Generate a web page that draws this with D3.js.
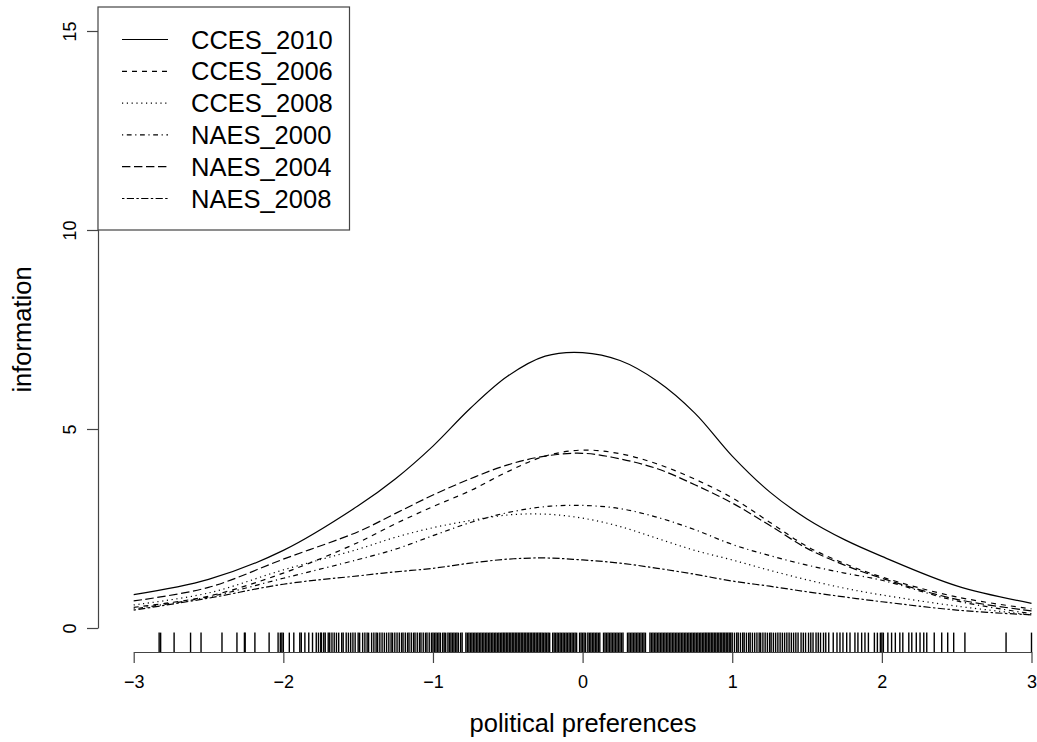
<!DOCTYPE html>
<html>
<head>
<meta charset="utf-8">
<script src="https://cdn.jsdelivr.net/npm/d3@7"></script>
<style>
  body { margin: 0; background: #fff; }
  svg { display: block; font-family: "Liberation Sans", Arial, Helvetica, sans-serif; }
</style>
</head>
<body>
<svg id="chart" width="1037" height="742"></svg>
<script>
// ability values the curves were read at (finer near the peak)
const xGrid = [-3, -2.5, -2, -1.5, -1.25, -1, -0.75, -0.5, -0.25, 0, 0.25, 0.5, 0.75, 1, 1.25, 1.5, 1.75, 2, 2.5, 3]

const cces2010 = [0.84, 1.22, 1.95, 3.07, 3.75, 4.57, 5.52, 6.33, 6.83, 6.92, 6.72, 6.20, 5.40, 4.32, 3.42, 2.74, 2.22, 1.80, 1.06, 0.62]
const cces2006 = [0.52, 0.80, 1.38, 2.15, 2.62, 3.05, 3.45, 3.93, 4.32, 4.47, 4.38, 4.12, 3.74, 3.27, 2.66, 2.05, 1.62, 1.28, 0.78, 0.48]
const cces2008 = [0.58, 0.88, 1.46, 1.98, 2.28, 2.52, 2.70, 2.84, 2.86, 2.76, 2.55, 2.25, 1.95, 1.71, 1.45, 1.21, 1.00, 0.83, 0.55, 0.33]
const naes2000 = [0.48, 0.78, 1.25, 1.72, 1.98, 2.32, 2.65, 2.90, 3.05, 3.08, 3.00, 2.78, 2.47, 2.10, 1.82, 1.58, 1.38, 1.20, 0.68, 0.36]
const naes2004 = [0.68, 1.02, 1.73, 2.42, 2.88, 3.34, 3.75, 4.10, 4.32, 4.39, 4.25, 4.00, 3.60, 3.14, 2.58, 2.00, 1.58, 1.25, 0.72, 0.43]
const naes2008 = [0.45, 0.75, 1.10, 1.31, 1.41, 1.50, 1.63, 1.73, 1.76, 1.71, 1.63, 1.50, 1.35, 1.18, 1.05, 0.91, 0.78, 0.66, 0.45, 0.33]

const seriesNames = ["CCES_2010", "CCES_2006", "CCES_2008", "NAES_2000", "NAES_2004", "NAES_2008"]
const seriesValues = [cces2010, cces2006, cces2008, naes2000, naes2004, naes2008]
// R line types 1..6
const dashes = ["none", "5 5", "1.2 3.6", "1.2 3.6 4.8 3.6", "8.4 3.6", "2.4 2.4 7.2 2.4"]

const xTicks = [-3, -2, -1, 0, 1, 2, 3]
const yTicks = [0, 5, 10, 15]

// respondents' positions (rug)
const rugSparse = [-2.83, -2.82, -2.73, -2.62, -2.55, -2.41, -2.31, -2.26, -2.255, -2.19, -2.095,
  -2.035, -2.02, -2.01, -2.0, -1.96, -1.93, -1.89, -1.88, -1.856, -1.83, -1.805, -1.78, -1.765,
  1.675, 1.70, 1.72, 1.74, 1.765, 1.787, 1.82, 1.84, 1.865, 1.887, 1.91, 1.95, 1.97, 1.99, 2.0,
  2.01, 2.04, 2.065, 2.09, 2.12, 2.14, 2.18, 2.20, 2.23, 2.255, 2.28, 2.30, 2.35, 2.40, 2.44,
  2.48, 2.555, 2.83, 3.0]
const rugDense = ("-1.75 -1.745 -1.73 -1.72 -1.70 -1.69 -1.675 -1.66 -1.645 -1.63 -1.61 -1.60 -1.58 " +
  "-1.565 -1.55 -1.535 -1.52 -1.50 -1.49 -1.47 -1.455 -1.44 -1.43 -1.41 -1.395 -1.38 -1.37 -1.355 " +
  "-1.34 -1.325 -1.31 -1.295 -1.28 -1.27 -1.255 -1.24 -1.225 -1.21 -1.20 -1.185 -1.17 -1.16 -1.145 " +
  "-1.13 -1.12 -1.105 -1.09 -1.08 -1.065 -1.05 -1.04 -1.025 -1.01 " +
  "-1.00 -0.99 -0.98 -0.97 -0.96 -0.95 -0.935 -0.925 -0.915 -0.90 -0.89 -0.88 -0.87 -0.86 -0.85 " +
  "-0.84 -0.83 -0.815 -0.805 -0.78 -0.77 -0.76 -0.75 -0.74 -0.73 -0.72 -0.71 -0.70 -0.69 -0.68 " +
  "-0.67 -0.66 -0.65 -0.64 -0.63 -0.62 -0.61 -0.60 -0.59 -0.58 -0.57 -0.56 -0.55 -0.54 -0.53 " +
  "-0.52 -0.51 -0.50 -0.49 -0.48 -0.47 -0.46 -0.45 -0.44 -0.43 -0.42 -0.41 -0.40 -0.39 -0.38 " +
  "-0.37 -0.36 -0.35 -0.34 -0.33 -0.32 -0.31 -0.30 -0.29 -0.28 -0.27 -0.26 -0.25 -0.24 -0.23 " +
  "-0.22 -0.20 -0.19 -0.18 -0.17 -0.16 -0.15 -0.14 -0.13 -0.12 -0.11 -0.10 -0.09 -0.08 -0.07 " +
  "-0.06 -0.05 -0.04 -0.02 -0.01 0.00 0.01 0.02 0.035 0.045 0.055 0.065 0.075 0.085 0.095 0.105 " +
  "0.115 0.14 0.15 0.16 0.17 0.18 0.19 0.20 0.21 0.22 0.23 0.24 0.25 0.26 0.27 0.30 0.31 0.32 " +
  "0.33 0.34 0.35 0.36 0.37 0.38 0.39 0.40 0.41 0.42 0.45 0.46 0.47 0.48 0.49 0.50 0.51 0.52 " +
  "0.53 0.54 0.55 0.56 0.57 0.58 0.59 0.60 0.61 0.62 0.63 0.64 0.65 0.66 0.67 0.68 0.69 0.70 " +
  "0.71 0.72 0.73 0.74 0.75 0.76 0.77 0.78 0.79 0.80 0.81 0.82 0.83 0.84 0.85 0.86 0.87 0.88 " +
  "0.89 0.90 0.91 0.92 0.93 0.94 0.95 0.96 0.97 0.98 0.99 1.00 " +
  "1.015 1.03 1.04 1.055 1.07 1.08 1.095 1.11 1.12 1.135 1.15 1.165 1.18 1.19 1.205 1.22 1.235 " +
  "1.25 1.26 1.275 1.29 1.305 1.32 1.335 1.35 1.365 1.38 1.395 1.41 1.425 1.44 1.46 1.475 1.49 " +
  "1.51 1.525 1.54 1.56 1.575 1.59 1.61 1.625 1.645").split(" ").map(Number)
const rug = rugSparse.concat(rugDense)

const svg = d3.select("#chart")
svg.append("rect").attr("width", 1037).attr("height", 742).attr("fill", "#fff")

// plot region (R style, 4% padding) runs 98..1068 by 7..652
const plot = { left: 98, right: 1068, top: 7, bottom: 652 }
const x = d3.scaleLinear().domain([-3, 3]).range([133.7, 1031.5])
const y = d3.scaleLinear().domain([0, 15]).range([628, 31])

// curves
const line = d3.line()
  .x((d) => x(d[0]))
  .y((d) => y(d[1]))
  .curve(d3.curveCatmullRom.alpha(0.5))

seriesValues.forEach((vals, i) => {
  svg.append("path")
    .datum(xGrid.map((g, j) => [g, vals[j]]))
    .attr("d", line)
    .attr("fill", "none")
    .attr("stroke", "#000")
    .attr("stroke-width", 1.2)
    .attr("stroke-dasharray", dashes[i])
})

// rug
svg.append("g")
  .selectAll("line")
  .data(rug)
  .join("line")
  .attr("x1", (d) => x(d)).attr("x2", (d) => x(d))
  .attr("y1", plot.bottom).attr("y2", plot.bottom - 19.4)
  .attr("stroke", "#000")
  .attr("stroke-width", 1.4)

// x axis
const xAxis = svg.append("g")
  .attr("transform", `translate(0,${plot.bottom})`)
  .call(d3.axisBottom(x).tickValues(xTicks).tickSize(11).tickPadding(12).tickSizeOuter(0)
    .tickFormat((d) => String(d).replace("-", "\u2212")))
xAxis.select(".domain").attr("stroke", "#444").attr("stroke-width", 1.2)
xAxis.selectAll(".tick line").attr("stroke", "#444").attr("stroke-width", 1.2)
xAxis.selectAll("text").attr("font-size", 18).attr("fill", "#000")

// y axis
const yAxis = svg.append("g")
  .attr("transform", `translate(${plot.left},0)`)
  .call(d3.axisLeft(y).tickValues(yTicks).tickSize(11).tickSizeOuter(0))
yAxis.select(".domain").attr("stroke", "#444").attr("stroke-width", 1.2)
yAxis.selectAll(".tick line").attr("stroke", "#444").attr("stroke-width", 1.2)
yAxis.selectAll("text")
  .attr("font-size", 18).attr("fill", "#000")
  .attr("x", 0).attr("dy", 0)
  .attr("transform", "translate(-22,0) rotate(-90)")
  .attr("text-anchor", "middle")
  .attr("dominant-baseline", "auto")

// axis titles
svg.append("text")
  .attr("x", (plot.left + plot.right) / 2).attr("y", 732)
  .attr("text-anchor", "middle").attr("font-size", 25.5)
  .text("political preferences")
svg.append("text")
  .attr("transform", `translate(31,${(plot.top + plot.bottom) / 2}) rotate(-90)`)
  .attr("text-anchor", "middle").attr("font-size", 25.5)
  .text("information")

// legend
const legend = svg.append("g")
legend.append("rect")
  .attr("x", plot.left).attr("y", plot.top)
  .attr("width", 251.5).attr("height", 223)
  .attr("fill", "#fff").attr("stroke", "#444").attr("stroke-width", 1.2)
seriesNames.forEach((name, i) => {
  const cy = 39.5 + i * 31.8
  legend.append("line")
    .attr("x1", 122).attr("x2", 168).attr("y1", cy).attr("y2", cy)
    .attr("stroke", "#000").attr("stroke-width", 1.2)
    .attr("stroke-dasharray", dashes[i])
  legend.append("text")
    .attr("x", 191).attr("y", cy).attr("dy", "0.36em")
    .attr("font-size", 25.5)
    .text(name)
})
</script>
</body>
</html>
